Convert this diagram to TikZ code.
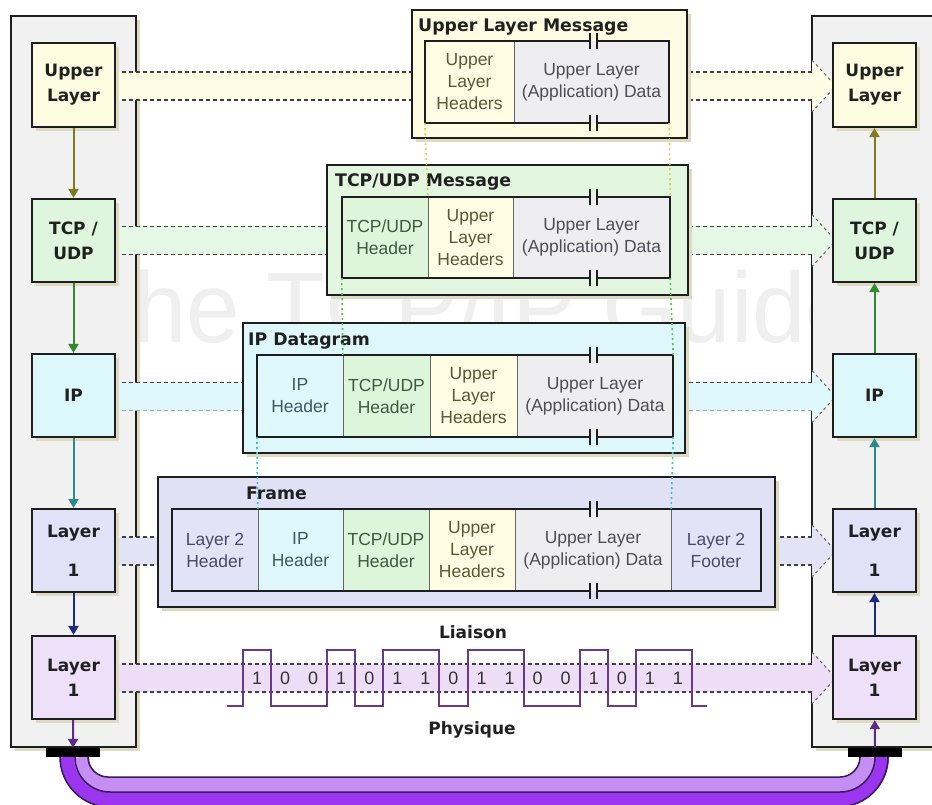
\documentclass[tikz,border=0pt]{standalone}
\usepackage{fontspec}
\setmainfont{Liberation Sans}
\newfontfamily\dvs{DejaVu Sans}
\usetikzlibrary{arrows.meta}
% colours
\definecolor{wmc}{HTML}{EFEFEF}
\definecolor{panelc}{HTML}{F1F1F1}
\definecolor{shadowc}{HTML}{DEDAC2}
\definecolor{boxline}{HTML}{1E1E1E}
\definecolor{txtdark}{HTML}{202020}
% layer boxes
\definecolor{upb}{HTML}{FFFDE1}
\definecolor{tcpb}{HTML}{DEF5DE}
\definecolor{ipb}{HTML}{DDF8FA}
\definecolor{l2b}{HTML}{E1E1F7}
\definecolor{phb}{HTML}{EEE0F8}
% bands
\definecolor{bandU}{HTML}{FFFCE6}
\definecolor{bandT}{HTML}{E5F7E5}
\definecolor{bandI}{HTML}{DFF8FB}
\definecolor{bandL}{HTML}{E3E3F6}
\definecolor{bandP}{HTML}{EEDDF7}
% message boxes
\definecolor{m1c}{HTML}{FFFCE3}
\definecolor{m2c}{HTML}{E2F6E0}
\definecolor{m3c}{HTML}{DEF7FA}
\definecolor{m4c}{HTML}{E1E1F6}
% cells
\definecolor{ulhc}{HTML}{FFFDE4}
\definecolor{ulht}{HTML}{5B5836}
\definecolor{datc}{HTML}{EEEDEF}
\definecolor{datt}{HTML}{4E4E58}
\definecolor{tcpc}{HTML}{DDF5DA}
\definecolor{tcpt}{HTML}{3F5A3F}
\definecolor{ipc}{HTML}{DFF8FB}
\definecolor{ipt}{HTML}{3D5A62}
\definecolor{l2c}{HTML}{E3E3F7}
\definecolor{l2t}{HTML}{4A4A68}
% guides
\definecolor{guideY}{HTML}{D6CE5A}
\definecolor{guideG}{HTML}{5CC05C}
\definecolor{guideC}{HTML}{3CC0D0}
% arrows
\definecolor{arO}{HTML}{7F7A20}
\definecolor{arG}{HTML}{2E8B2E}
\definecolor{arT}{HTML}{2A8A8A}
\definecolor{arN}{HTML}{1E2A80}
\definecolor{arP}{HTML}{5A2C86}
% signal and cable
\definecolor{sigc}{HTML}{6A3A8A}
\definecolor{cablelight}{HTML}{C48EF2}
\definecolor{cablevivid}{HTML}{9B35F0}
\definecolor{cableline}{HTML}{3A1A5A}

\newcommand\flowband[3]{%
  \fill[#2] (115,{#1-14}) -- (812,{#1-14}) -- (812,{#1-26}) -- (833,{#1-3}) -- (833,{#1+3}) -- (812,{#1+26}) -- (812,{#1+14}) -- (115,{#1+14}) -- cycle;
  \draw[bandline] (115,{#1-14}) -- (812,{#1-14});
  \draw[bandline,draw=#3] (115,{#1+14}) -- (812,{#1+14});
  \draw[chev] (812,{#1-26}) -- (833,{#1-3}) -- (833,{#1+3}) -- (812,{#1+26});
  \draw[edgedot] (118,{#1-14}) -- (118,{#1+14});
}
\newcommand\mkframe[4]{%
  \draw[frameline] (590,#2) -| (#1,#4) -- (590,#4);
  \draw[frameline] (597,#2) -| (#3,#4) -- (597,#4);
  \draw[brk] (590,{#2-8}) -- (590,{#2+8}) (597,{#2-8}) -- (597,{#2+8});
  \draw[brk] (590,{#4-8}) -- (590,{#4+8}) (597,{#4-8}) -- (597,{#4+8});
}

\begin{document}
\begin{tikzpicture}[x=1pt,y=-1pt,
  shadowed/.style={preaction={fill=shadowc, transform canvas={shift={(4pt,-4pt)}}}},
  panel/.style={draw=boxline, line width=2pt, fill=panelc, shadowed},
  lbox/.style={draw=boxline, line width=2.2pt, minimum width=83pt, minimum height=83pt, inner sep=0pt, align=center, font=\dvs\bfseries\fontsize{17}{25}\selectfont, text=txtdark, shadowed},
  outerbox/.style={draw=boxline, line width=2.8pt, inner sep=0pt, shadowed},
  cellbox/.style={inner sep=0pt, minimum height=82pt, align=center, font=\fontsize{17.5}{22}\selectfont},
  divline/.style={draw=black!60, line width=1.2pt},
  frameline/.style={draw=boxline, line width=2.4pt},
  brk/.style={draw=boxline, line width=2pt},
  ttl/.style={font=\dvs\bfseries\fontsize{17.3}{20}\selectfont, anchor=base west, inner sep=0pt, text=txtdark},
  bandline/.style={draw=black!75, line width=1.2pt, dash pattern=on 4pt off 3pt},
  chev/.style={draw=black!60, line width=1pt, dash pattern=on 3pt off 3pt},
  edgedot/.style={draw=black!60, line width=1.2pt, dash pattern=on 1.5pt off 1.5pt},
  guide/.style={line width=1.6pt, dash pattern=on 2pt off 3pt},
  flow/.style={line width=2pt, -{Triangle[width=10pt,length=9pt]}},
  bitlbl/.style={font=\fontsize{18}{20}\selectfont, text=black!80, inner sep=0pt},
  lbl/.style={font=\dvs\bfseries\fontsize{17}{20}\selectfont, text=txtdark, inner sep=0pt},
]
\useasboundingbox (0,0) rectangle (932,805);
\fill[white] (0,0) rectangle (932,805);
\clip (0,0) rectangle (932,805);

% watermark
\node[text=wmc, font=\fontsize{100}{100}\selectfont, inner sep=0pt] (wm) at (467,307) {\scalebox{0.96}[1]{The TCP/IP Guide}};

% side panels
\draw[panel] (11,16) rectangle (136,747);
\draw[panel] (812,16) rectangle (950,747);

% bands
\flowband{86}{bandU}{black!75}
\flowband{240.5}{bandT}{black!75}
\flowband{396.5}{bandI}{black!35}
\flowband{551}{bandL}{black!75}
\flowband{678}{bandP}{black!75}

% ---- Upper Layer Message
\node[outerbox, fill=m1c, minimum width=275pt, minimum height=128pt] (M1) at (549.5,74) {};
\node[ttl] (M1t) at (418,32) {Upper Layer Message};
\node[cellbox, fill=ulhc, text=ulht, minimum width=89pt] (U1) at (469.5,82) {Upper\\Layer\\Headers};
\node[cellbox, fill=datc, text=datt, minimum width=155pt] (U2) at (591.5,82) {Upper Layer\\(Application) Data};
\draw[divline] (U1.north east) -- (U1.south east);
\mkframe{425}{41}{669}{123}

% ---- TCP/UDP Message
\node[outerbox, fill=m2c, minimum width=361pt, minimum height=130pt] (M2) at (507.5,230) {};
\node[ttl] (M2t) at (335,187) {TCP/UDP Message};
\node[cellbox, fill=tcpc, text=tcpt, minimum width=86pt, minimum height=81pt] (T1) at (385,237.5) {TCP/UDP\\Header};
\node[cellbox, fill=ulhc, text=ulht, minimum width=85pt, minimum height=81pt] (T2) at (470.5,237.5) {Upper\\Layer\\Headers};
\node[cellbox, fill=datc, text=datt, minimum width=157pt, minimum height=81pt] (T3) at (591.5,237.5) {Upper Layer\\(Application) Data};
\draw[divline] (T1.north east) -- (T1.south east);
\draw[divline] (T2.north east) -- (T2.south east);
\mkframe{342}{197}{670}{278}

% ---- IP Datagram
\node[outerbox, fill=m3c, minimum width=442pt, minimum height=130pt] (M3) at (464,388) {};
\node[ttl] (M3t) at (248,345) {IP Datagram};
\node[cellbox, fill=ipc, text=ipt, minimum width=86pt] (I1) at (300,396) {IP\\Header};
\node[cellbox, fill=tcpc, text=tcpt, minimum width=87pt] (I2) at (386.5,396) {TCP/UDP\\Header};
\node[cellbox, fill=ulhc, text=ulht, minimum width=87pt] (I3) at (473.5,396) {Upper\\Layer\\Headers};
\node[cellbox, fill=datc, text=datt, minimum width=156pt] (I4) at (595,396) {Upper Layer\\(Application) Data};
\draw[divline] (I1.north east) -- (I1.south east);
\draw[divline] (I2.north east) -- (I2.south east);
\draw[divline] (I3.north east) -- (I3.south east);
\mkframe{257}{355}{673}{437}

% ---- Frame
\node[outerbox, fill=m4c, minimum width=617pt, minimum height=130pt] (M4) at (466.5,542) {};
\node[ttl] (M4t) at (246,499) {Frame};
\node[cellbox, fill=l2c, text=l2t, minimum width=86pt] (F1) at (215,550) {Layer 2\\Header};
\node[cellbox, fill=ipc, text=ipt, minimum width=85pt] (F2) at (300.5,550) {IP\\Header};
\node[cellbox, fill=tcpc, text=tcpt, minimum width=86pt] (F3) at (386,550) {TCP/UDP\\Header};
\node[cellbox, fill=ulhc, text=ulht, minimum width=86pt] (F4) at (472,550) {Upper\\Layer\\Headers};
\node[cellbox, fill=datc, text=datt, minimum width=156pt] (F5) at (593,550) {Upper Layer\\(Application) Data};
\node[cellbox, fill=l2c, text=l2t, minimum width=90pt] (F6) at (716,550) {Layer 2\\Footer};
\draw[divline] (F1.north east) -- (F1.south east);
\draw[divline] (F2.north east) -- (F2.south east);
\draw[divline] (F3.north east) -- (F3.south east);
\draw[divline] (F4.north east) -- (F4.south east);
\draw[divline] (F5.north east) -- (F5.south east);
\mkframe{172}{509}{761}{591}

% guide lines
\draw[guide, draw=guideY] (U1.south west) -- (T2.north west);
\draw[guide, draw=guideY] (U2.south east) -- (T3.north east);
\draw[guide, draw=guideG] (T1.south west) -- (I2.north west);
\draw[guide, draw=guideG] (T3.south east) -- (I4.north east);
\draw[guide, draw=guideC] (I1.south west) -- (F2.north west);
\draw[guide, draw=guideC] (I4.south east) -- (F5.north east);

% layer boxes
\node[lbox, fill=upb, minimum height=84pt] (LU) at (73.5,85) {Upper\\Layer};
\node[lbox, fill=tcpb] (LT) at (73.5,240.5) {TCP /\\UDP};
\node[lbox, fill=ipb] (LI) at (73.5,395.5) {IP};
\node[lbox, fill=l2b] (LL) at (73.5,550.5) {Layer\\[14pt]1};
\node[lbox, fill=phb] (LP) at (73.5,677.5) {Layer\\1};
\node[lbox, fill=upb, minimum height=84pt] (RU) at (874.5,85) {Upper\\Layer};
\node[lbox, fill=tcpb] (RT) at (874.5,240.5) {TCP /\\UDP};
\node[lbox, fill=ipb] (RI) at (874.5,395.5) {IP};
\node[lbox, fill=l2b] (RL) at (874.5,550.5) {Layer\\[14pt]1};
\node[lbox, fill=phb] (RP) at (874.5,677.5) {Layer\\1};

% vertical arrows
\draw[flow, arO] (LU) -- (LT);
\draw[flow, arG] (LT) -- (LI);
\draw[flow, arT] (LI) -- (LL);
\draw[flow, arN] (LL) -- (LP);
\draw[flow, arO] (RT) -- (RU);
\draw[flow, arG] (RI) -- (RT);
\draw[flow, arT] (RL) -- (RI);
\draw[flow, arN] (RP) -- (RL);

% signal
\draw[sigc, line width=2pt] (227,706) -- (243,706) -- (243,650) -- (271.1,650) -- (271.1,706) -- (327.2,706) -- (327.2,650) -- (355.2,650) -- (355.2,706) -- (383.3,706) -- (383.3,650) -- (439.4,650) -- (439.4,706) -- (467.5,706) -- (467.5,650) -- (523.6,650) -- (523.6,706) -- (579.7,706) -- (579.7,650) -- (607.8,650) -- (607.8,706) -- (635.8,706) -- (635.8,650) -- (692,650) -- (692,706) -- (707,706);
\foreach \b [count=\i from 0] in {1,0,0,1,0,1,1,0,1,1,0,0,1,0,1,1}
  \node[bitlbl] (bit\i) at ({257.03+28.06*\i},678) {\b};

\node[lbl] (liaison) at (473,632) {Liaison};
\node[lbl] (phys) at (472,730) {Physique};

% cable
\draw[cablevivid, line width=15pt, rounded corners=42.5pt] (67.5,757) |- (881.5,799.5) -- (881.5,757);
\draw[cablelight, line width=15pt, rounded corners=27.5pt] (81.5,757) |- (867.5,784.5) -- (867.5,757);
\draw[cableline, line width=1.5pt, rounded corners=20pt] (88,757) |- (860,777) -- (860,757);
\draw[cableline, line width=1.5pt, rounded corners=35pt] (75,757) |- (875,792) -- (875,757);
\draw[cableline, line width=1.5pt, rounded corners=50pt] (60,757) |- (888,807) -- (888,757);
\node[fill=black, minimum width=54pt, minimum height=9pt, inner sep=0pt] (LC) at (73,752.5) {};
\node[fill=black, minimum width=54pt, minimum height=9pt, inner sep=0pt] (RC) at (875,752.5) {};
\draw[flow, arP] (LP) -- (LC.north);
\draw[flow, arP] (RC.north) -- (RP);
\end{tikzpicture}
\end{document}
